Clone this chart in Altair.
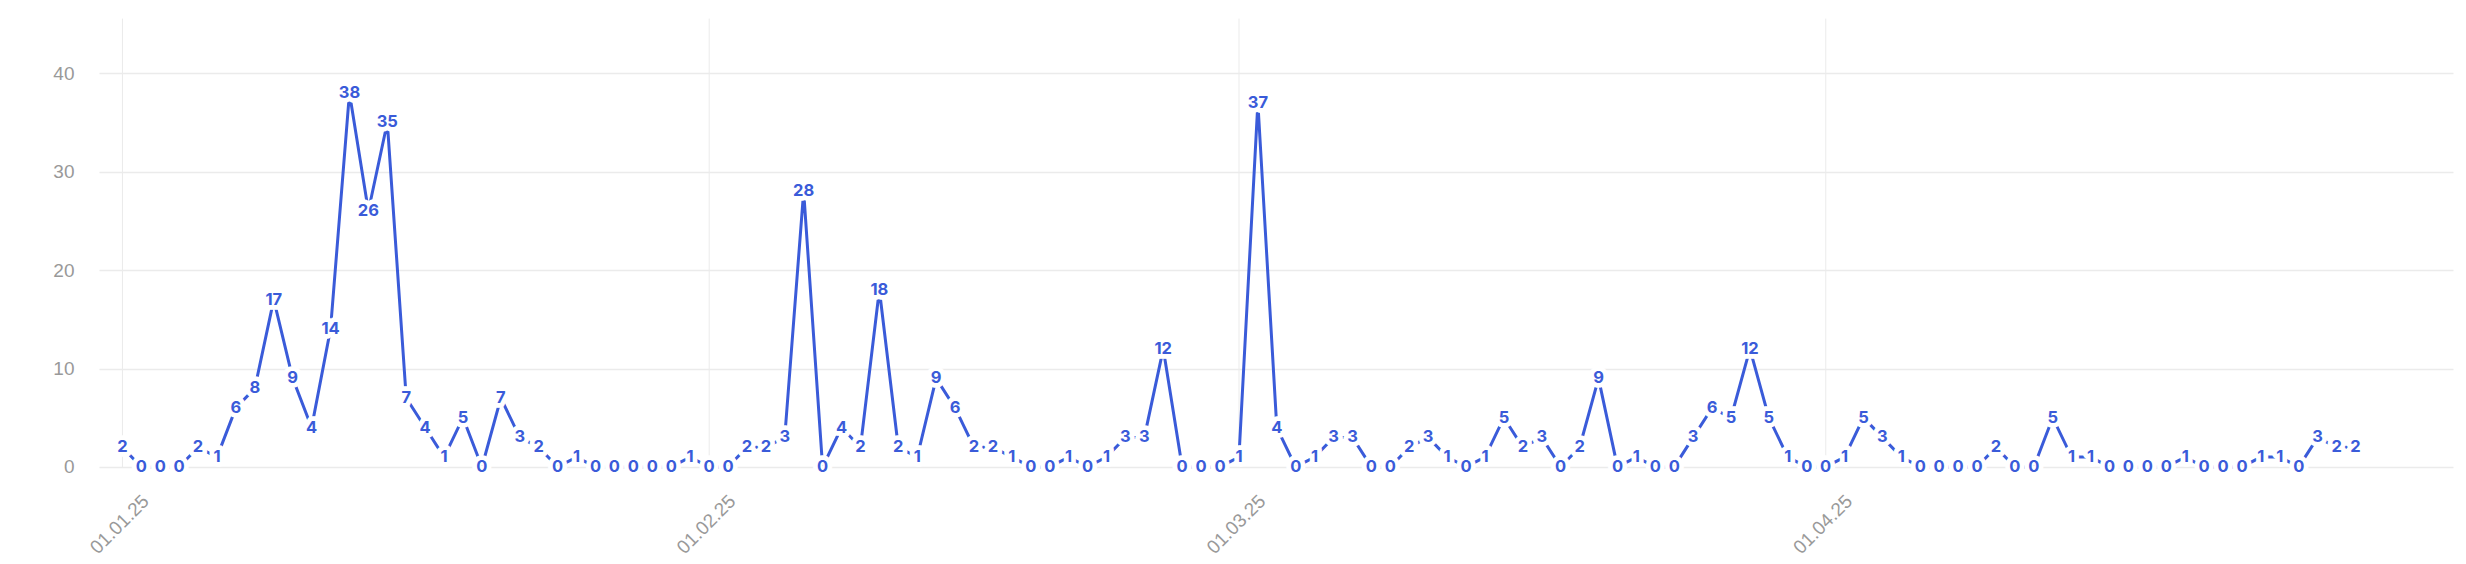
import altair as alt
import pandas as pd

# Daily values, 01.01.2025 - 29.04.2025
jan = [2, 0, 0, 0, 2, 1, 6, 8, 17, 9, 4, 14, 38, 26, 35, 7, 4, 1, 5, 0,
       7, 3, 2, 0, 1, 0, 0, 0, 0, 0, 1]
feb = [0, 0, 2, 2, 3, 28, 0, 4, 2, 18, 2, 1, 9, 6, 2, 2, 1, 0, 0, 1,
       0, 1, 3, 3, 12, 0, 0, 0]
mar = [1, 37, 4, 0, 1, 3, 3, 0, 0, 2, 3, 1, 0, 1, 5, 2, 3, 0, 2, 9,
       0, 1, 0, 0, 3, 6, 5, 12, 5, 1, 0]
apr = [0, 1, 5, 3, 1, 0, 0, 0, 0, 2, 0, 0, 5, 1, 1, 0, 0, 0, 0, 1,
       0, 0, 0, 1, 1, 0, 3, 2, 2]

values = jan + feb + mar + apr
dates = [d.strftime("%Y-%m-%d") for d in pd.date_range("2025-01-01", periods=len(values), freq="D")]

df = pd.DataFrame({"date": dates, "value": values})

BLUE = "#3a5bd9"
GRAY = "#999999"
GRID = "#ebebeb"

x_enc = alt.X(
    "date:T",
    scale=alt.Scale(
        type="utc",
        domain=[
            alt.DateTime(year=2024, month=12, date=30, hours=18, minutes=20, utc=True),
            alt.DateTime(year=2025, month=5, date=4, hours=3, minutes=36, utc=True),
        ],
    ),
    axis=alt.Axis(
        title=None,
        values=[alt.DateTime(year=2025, month=m, date=1, utc=True) for m in [1, 2, 3, 4]],
        labelExpr="utcFormat(datum.value, '%d.%m.%y')",
        domain=False,
        ticks=False,
        tickSize=0,
        labelAngle=-45,
        labelAlign="right",
        labelBaseline="middle",
        labelOffset=23,
        labelPadding=31,
        labelFontSize=19,
        labelFont="Liberation Sans",
        labelColor=GRAY,
        labelFlush=False,
        labelOverlap=False,
        grid=True,
        gridColor=GRID,
        gridWidth=1,
    ),
)

y_enc = alt.Y(
    "value:Q",
    scale=alt.Scale(domain=[0, 45.6], nice=False, zero=True),
    axis=alt.Axis(
        title=None,
        values=[0, 10, 20, 30, 40],
        domain=False,
        ticks=False,
        tickSize=0,
        labelPadding=25,
        labelFontSize=19,
        labelFont="Liberation Sans",
        labelColor=GRAY,
        grid=True,
        gridColor=GRID,
        gridWidth=1.5,
    ),
)

base = alt.Chart(df).encode(x=x_enc, y=y_enc)

line = base.mark_line(color=BLUE, strokeWidth=3)

halo = base.mark_text(
    font="Inter", fontSize=16.5, fontWeight="bold", color="white",
    stroke="white", strokeWidth=9.5, strokeJoin="round",
    align="center", baseline="middle",
).encode(text="value:Q")

labels = base.mark_text(
    font="Inter", fontSize=16.5, fontWeight="bold", color=BLUE,
    align="center", baseline="middle",
).encode(text="value:Q")

chart = (
    alt.layer(line, halo, labels)
    .properties(
        width=2355,
        height=449,
        background="white",
        autosize=alt.AutoSizeParams(type="none"),
        padding={"left": 91, "top": 10, "right": 5, "bottom": 90},
    )
    .configure_view(strokeWidth=0, stroke="transparent")
)

chart.save("out.html", embed_options={"renderer": "svg", "actions": False})
